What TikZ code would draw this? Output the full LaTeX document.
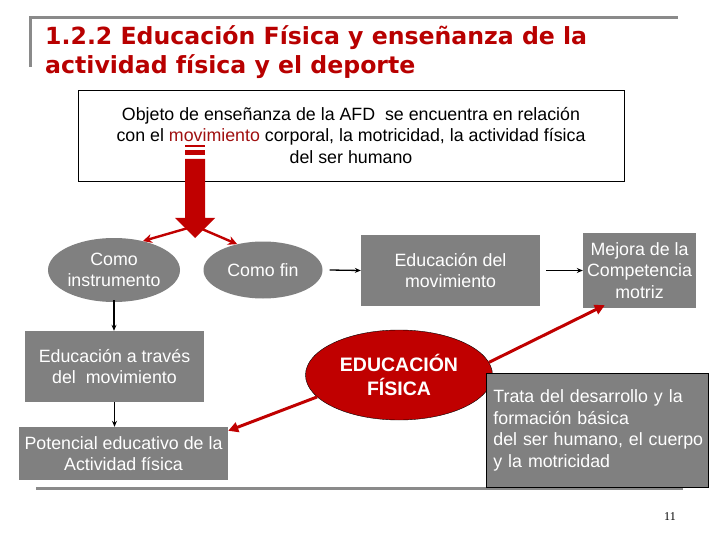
\documentclass[tikz,border=0pt]{standalone}
\usepackage{fontspec}
\setmainfont{Liberation Sans}
\newfontfamily\titlefont{DejaVu Sans}
\newfontfamily\pagefont{Liberation Serif}
\usetikzlibrary{shapes.geometric,arrows.meta}
\definecolor{titlered}{HTML}{B80000}
\definecolor{boxgray}{HTML}{808080}
\definecolor{rulegray}{HTML}{8A8A8A}
\definecolor{fisred}{HTML}{C00000}
\definecolor{wordred}{HTML}{A01010}

\tikzset{
  txt/.style={font=\fontsize{17.8}{21.5}\selectfont},
  graybox/.style={txt,fill=boxgray,text=white,align=center,inner sep=0pt},
  grayoval/.style={graybox,ellipse},
  blackarrow/.style={-{Stealth[length=6pt,width=5pt]},line width=1.3pt},
  thinred/.style={-{Stealth[length=9pt,width=9pt]},fisred,line width=2.4pt},
  fatred/.style={-{Triangle[length=10pt,width=10pt]},fisred,line width=3pt},
}

\begin{document}
\begin{tikzpicture}[x=1pt,y=-1pt]
  \useasboundingbox (0,0) rectangle (720,540);
  % title and rules
  \draw[rulegray,line width=3pt] (30,67) -- (30,18) -- (678,18);
  \draw[rulegray,line width=3pt] (36,488) -- (683,488);
  \node[anchor=base west,inner sep=0pt,text=titlered,font=\titlefont\bfseries\fontsize{23.6}{28}\selectfont]
    (title1) at (45,45) {1.2.2 Educación Física y enseñanza de la};
  \node[anchor=base west,inner sep=0pt,text=titlered,font=\titlefont\bfseries\fontsize{23.6}{28}\selectfont]
    (title2) at (45,74) {actividad física y el deporte};

  % object box
  \node[txt,draw,line width=0.8pt,fill=white,align=center,minimum width=546pt,minimum height=91pt,inner sep=0pt]
    (objeto) at (351,135.5) {Objeto de enseñanza de la AFD\ \ se encuentra en relación\\
      con el \textcolor{wordred}{movimiento} corporal, la motricidad, la actividad física\\
      del ser humano};

  % nodes
  \node[grayoval,minimum width=132pt,minimum height=64pt] (instr) at (114,270) {Como\\instrumento};
  \node[grayoval,minimum width=119pt,minimum height=57pt] (fin) at (263,270) {Como fin};
  \node[graybox,minimum width=179pt,minimum height=71pt] (edmov) at (450.5,270.5) {Educación del\\movimiento};
  \node[graybox,minimum width=113pt,minimum height=75pt] (mejora) at (639.5,270.5) {Mejora de la\\Competencia\\motriz};
  \node[graybox,minimum width=179pt,minimum height=71pt] (atraves) at (114.5,366.5) {Educación a través\\del\ \ movimiento};
  \node[graybox,minimum width=209pt,minimum height=53pt] (pot) at (123.5,453.5) {Potencial educativo de la\\Actividad física};
  \node[txt,ellipse,draw,fill=fisred,text=white,align=center,inner sep=0pt,minimum width=187pt,minimum height=90pt,
    font=\bfseries\fontsize{19.5}{24}\selectfont] (fis) at (399,375) {EDUCACIÓN\\FÍSICA};
  \node[txt,draw,line width=0.8pt,fill=boxgray,text=white,align=left,text width=222pt,inner sep=0pt,
    minimum height=114pt,anchor=north west] (trata) at (486,373)
    {\hspace*{7pt}Trata del desarrollo y la\\\hspace*{7pt}formación básica\\\hspace*{7pt}del ser humano, el cuerpo\\\hspace*{7pt}y la motricidad};

  % connectors
  \coordinate (split) at (195,226);
  \draw[thinred] (split) -- (instr.45);
  \draw[thinred] (split) -- (fin.135);
  \fill[fisred] (185,145) rectangle (205,147.5);
  \fill[fisred] (185,150.5) rectangle (205,155);
  \fill[fisred] (185,159) -- (205,159) -- (205,218) -- (215,218) -- (195,238) -- (175,218) -- (185,218) -- cycle;
  \draw[blackarrow] ([xshift=7pt]fin.east) -- (edmov.west);
  \draw[blackarrow] ([xshift=6pt]edmov.east) -- (mejora.west);
  \draw[blackarrow] ([yshift=2pt]instr.south) -- (instr.south |- atraves.north);
  \draw[blackarrow] (atraves.south) -- (atraves.south |- pot.north);
  \draw[fatred] (fis.195) -- ([yshift=-4pt]pot.north east);
  \draw[fatred] (fis.8) -- ([xshift=22pt,yshift=3pt]mejora.south west);

  % page number
  \node[font=\pagefont\fontsize{12}{14}\selectfont,inner sep=0pt] (page) at (670,517) {11};
\end{tikzpicture}
\end{document}
